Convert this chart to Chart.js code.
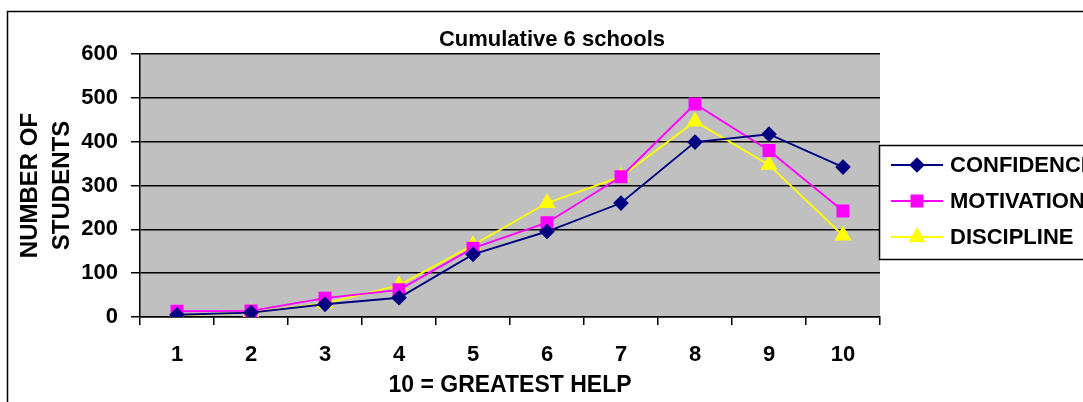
<!DOCTYPE html>
<html>
<head>
<meta charset="utf-8">
<script src="https://cdn.jsdelivr.net/npm/chart.js@4.4.0/dist/chart.umd.min.js"></script>
<style>
  html, body { margin: 0; padding: 0; background: #ffffff; overflow: hidden; }
  #wrap { width: 1083px; height: 402px; }
</style>
</head>
<body>
<div id="wrap"><canvas id="c" width="1083" height="402"></canvas></div>
<script>
// ---- data ----
const categories = ['1', '2', '3', '4', '5', '6', '7', '8', '9', '10'];
const confidence = [5, 10, 29, 44, 143, 195, 260, 399, 417, 342];
const motivation = [13, 14, 43, 62, 157, 215, 320, 486, 380, 242];
const discipline = [4, 10, 31, 72, 164, 260, 320, 446, 347, 186];
const seriesNames = ['CONFIDENCE', 'MOTIVATION', 'DISCIPLINE'];
const yTicks = [0, 100, 200, 300, 400, 500, 600];
const chartTitle = 'Cumulative 6 schools';
const xTitle = '10 = GREATEST HELP';
const yTitle = ['NUMBER OF', 'STUDENTS'];

const FONT = "'Liberation Sans', Arial, sans-serif";

const decor = {
  id: 'decor',
  beforeDraw(chart) {
    const ctx = chart.ctx;
    const a = chart.chartArea;
    ctx.save();
    ctx.fillStyle = '#ffffff';
    ctx.fillRect(0, 0, chart.width, chart.height);
    ctx.fillStyle = '#C0C0C0';
    ctx.fillRect(a.left, a.top, a.right - a.left, a.bottom - a.top);
    ctx.restore();
  },
  afterDraw(chart) {
    const ctx = chart.ctx;
    ctx.save();
    // outer frame
    ctx.strokeStyle = '#000';
    ctx.lineWidth = 1.5;
    ctx.strokeRect(7.5, 11.5, 1200, 500);
    // title
    ctx.fillStyle = '#000';
    ctx.font = 'bold 22px ' + FONT;
    ctx.textAlign = 'center';
    ctx.textBaseline = 'middle';
    ctx.fillText(chartTitle, 552, 40);
    // legend box
    ctx.fillStyle = '#fff';
    ctx.fillRect(879.5, 145.5, 400, 114);
    ctx.strokeStyle = '#000';
    ctx.lineWidth = 1.5;
    ctx.strokeRect(879.5, 145.5, 400, 114);
    const rows = [165, 201, 237];
    chart.data.datasets.forEach((ds, i) => {
      const y = rows[i];
      ctx.strokeStyle = ds.borderColor;
      ctx.lineWidth = ds.borderWidth;
      ctx.beginPath();
      ctx.moveTo(891, y);
      ctx.lineTo(943, y);
      ctx.stroke();
      ctx.fillStyle = ds.pointBackgroundColor;
      ctx.strokeStyle = ds.pointBorderColor;
      Chart.helpers.drawPoint(ctx, {pointStyle: ds.pointStyle, radius: ds.pointRadius, borderWidth: 1, rotation: 0}, 917, y);
      ctx.fillStyle = '#000';
      ctx.font = 'bold 22px ' + FONT;
      ctx.textAlign = 'left';
      ctx.textBaseline = 'middle';
      ctx.fillText(ds.label, 950, y + 1);
    });
    ctx.restore();
  }
};

new Chart(document.getElementById('c'), {
  type: 'line',
  data: {
    labels: categories,
    datasets: [
      { label: seriesNames[0], data: confidence, borderColor: '#000080', backgroundColor: '#000080',
        pointBackgroundColor: '#000080', pointBorderColor: '#000080', pointStyle: 'rectRot', pointRadius: 6.5,
        borderWidth: 1.9, tension: 0 },
      { label: seriesNames[1], data: motivation, borderColor: '#FF00FF', backgroundColor: '#FF00FF',
        pointBackgroundColor: '#FF00FF', pointBorderColor: '#FF00FF', pointStyle: 'rect', pointRadius: 7.8,
        borderWidth: 1.9, tension: 0 },
      { label: seriesNames[2], data: discipline, borderColor: '#FFFF00', backgroundColor: '#FFFF00',
        pointBackgroundColor: '#FFFF00', pointBorderColor: '#FFFF00', pointStyle: 'triangle', pointRadius: 8,
        borderWidth: 1.9, tension: 0 }
    ]
  },
  options: {
    responsive: false,
    animation: false,
    devicePixelRatio: 1,
    layout: { padding: { left: 0, right: 203, top: 54, bottom: 0 } },
    plugins: {
      legend: { display: false },
      title: { display: false },
      tooltip: { enabled: false }
    },
    elements: { point: { hoverRadius: 0 } },
    scales: {
      x: {
        offset: true,
        afterFit(s) { s.height = 85; },
        grid: { display: true, drawOnChartArea: false, drawTicks: true, tickLength: 8, color: '#000', lineWidth: 1.5, offset: true },
        border: { display: true, color: '#000', width: 1.5 },
        ticks: { color: '#000', font: { family: FONT, size: 22, weight: 'bold' }, padding: 17, maxRotation: 0 },
        title: { display: true, text: xTitle, color: '#000', font: { family: FONT, size: 23, weight: 'bold' }, padding: { top: 0, bottom: 3 } }
      },
      y: {
        min: 0, max: 600,
        afterFit(s) { s.width = 140; },
        afterBuildTicks(s) { s.ticks = yTicks.map(v => ({ value: v })); },
        grid: { display: true, drawOnChartArea: true, drawTicks: true, tickLength: 9, color: '#000', lineWidth: 1.5 },
        border: { display: true, color: '#000', width: 1.5 },
        ticks: { color: '#000', font: { family: FONT, size: 22, weight: 'bold' }, padding: 13 },
        title: { display: true, text: yTitle, color: '#000', font: { family: FONT, size: 24, weight: 'bold', lineHeight: 1.33 }, padding: { top: 14, bottom: 0 } }
      }
    }
  },
  plugins: [decor]
});
</script>
</body>
</html>
